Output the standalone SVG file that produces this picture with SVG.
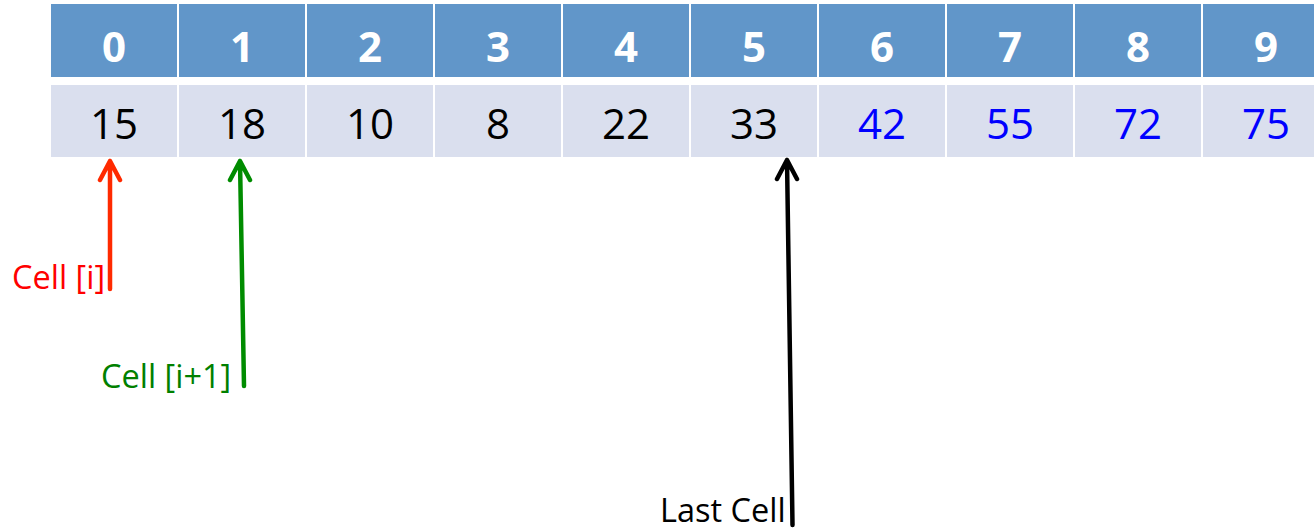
<svg xmlns="http://www.w3.org/2000/svg" width="1314" height="530" viewBox="0 0 1314 530">
<style>
.h{fill:#6196c9}
.d{fill:#dadfee}
.ht{font-family:"Open Sans","Liberation Sans",sans-serif;font-weight:bold;font-size:42px;fill:#fff;text-anchor:middle}
.dt{font-family:"Open Sans","Liberation Sans",sans-serif;font-size:42px;fill:#000;text-anchor:middle}
.blue{fill:#0000ff}
.lbl{font-family:"Open Sans","Liberation Sans",sans-serif;font-size:32.5px}
.arr{fill:none;stroke-width:4.5;stroke-linecap:round;stroke-linejoin:round}
</style>
<rect width="1314" height="530" fill="#fff"/>
<g id="table">
<g id="c0"><rect class="h" x="51" y="4" width="126" height="73"/><text class="ht" x="114" y="62">0</text><rect class="d" x="51" y="85" width="126" height="72"/><text class="dt" x="114" y="139">15</text></g>
<g id="c1"><rect class="h" x="179" y="4" width="126" height="73"/><text class="ht" x="242" y="62">1</text><rect class="d" x="179" y="85" width="126" height="72"/><text class="dt" x="242" y="139">18</text></g>
<g id="c2"><rect class="h" x="307" y="4" width="126" height="73"/><text class="ht" x="370" y="62">2</text><rect class="d" x="307" y="85" width="126" height="72"/><text class="dt" x="370" y="139">10</text></g>
<g id="c3"><rect class="h" x="435" y="4" width="126" height="73"/><text class="ht" x="498" y="62">3</text><rect class="d" x="435" y="85" width="126" height="72"/><text class="dt" x="498" y="139">8</text></g>
<g id="c4"><rect class="h" x="563" y="4" width="126" height="73"/><text class="ht" x="626" y="62">4</text><rect class="d" x="563" y="85" width="126" height="72"/><text class="dt" x="626" y="139">22</text></g>
<g id="c5"><rect class="h" x="691" y="4" width="126" height="73"/><text class="ht" x="754" y="62">5</text><rect class="d" x="691" y="85" width="126" height="72"/><text class="dt" x="754" y="139">33</text></g>
<g id="c6"><rect class="h" x="819" y="4" width="126" height="73"/><text class="ht" x="882" y="62">6</text><rect class="d" x="819" y="85" width="126" height="72"/><text class="dt blue" x="882" y="139">42</text></g>
<g id="c7"><rect class="h" x="947" y="4" width="126" height="73"/><text class="ht" x="1010" y="62">7</text><rect class="d" x="947" y="85" width="126" height="72"/><text class="dt blue" x="1010" y="139">55</text></g>
<g id="c8"><rect class="h" x="1075" y="4" width="126" height="73"/><text class="ht" x="1138" y="62">8</text><rect class="d" x="1075" y="85" width="126" height="72"/><text class="dt blue" x="1138" y="139">72</text></g>
<g id="c9"><rect class="h" x="1203" y="4" width="126" height="73"/><text class="ht" x="1266" y="62">9</text><rect class="d" x="1203" y="85" width="126" height="72"/><text class="dt blue" x="1266" y="139">75</text></g>
</g>
<g id="connectors">
<path class="arr" stroke="#ff2a00" d="M110,289 L110,161 M100,180 L110,161 L120,180"/>
<path class="arr" stroke="#008c00" d="M244,386 L240,161 M230,180 L240,161 L250,180"/>
<path class="arr" stroke="#000" d="M792.5,525 L787,160 M777,179 L787,160 L797,179"/>
</g>
<g id="labels">
<text class="lbl" x="12" y="289" fill="#ff0000">Cell [i]</text>
<text class="lbl" x="101" y="388" fill="#008000">Cell [i+1]</text>
<text class="lbl" x="660" y="522" fill="#000">Last Cell</text>
</g>
</svg>
